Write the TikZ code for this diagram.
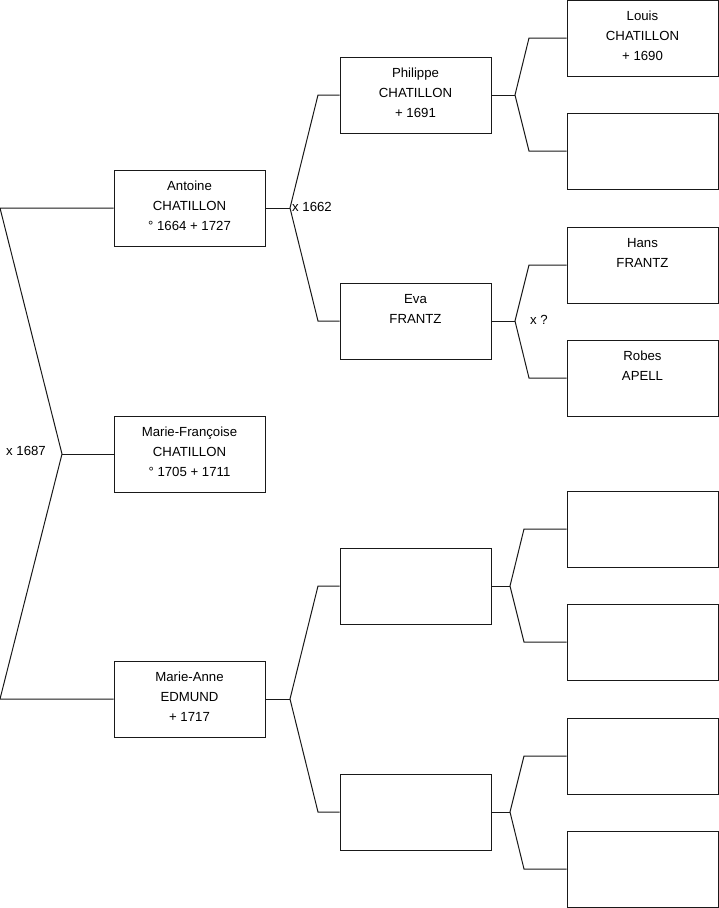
\documentclass[tikz,border=0pt]{standalone}
\usepackage{fontspec}
\setmainfont{Liberation Sans}
\newcommand{\lift}{\\[-16pt]\mbox{}}
\begin{document}
\begin{tikzpicture}[x=1pt,y=-1pt,
  person/.style={draw=black!90, line width=1pt, minimum width=151pt, minimum height=76pt,
    inner sep=0pt, align=center, font=\fontsize{13.2}{20}\selectfont},
  link/.style={draw=black!90, line width=1pt},
  lbl/.style={font=\fontsize{13.2}{15}\selectfont, inner sep=0pt}]
\useasboundingbox (0,0) rectangle (719,908);
% column 1
\node[person] (A) at (189.5,208) {Antoine\\CHATILLON\\° 1664 + 1727\lift};
\node[person] (MF) at (189.5,454) {Marie-Françoise\\CHATILLON\\° 1705 + 1711\lift};
\node[person] (MA) at (189.5,699) {Marie-Anne\\EDMUND\\+ 1717\lift};
% column 2
\node[person] (P) at (415.5,95) {Philippe\\CHATILLON\\+ 1691\lift};
\node[person] (E) at (415.5,321) {Eva\\FRANTZ\\\mbox{}\lift};
\node[person] (Q1) at (415.5,586) {};
\node[person] (Q2) at (415.5,812) {};
% column 3
\node[person] (L) at (642.5,38) {Louis\\CHATILLON\\+ 1690\lift};
\node[person] (R2) at (642.5,151) {};
\node[person] (H) at (642.5,265) {Hans\\FRANTZ\\\mbox{}\lift};
\node[person] (RA) at (642.5,378) {Robes\\APELL\\\mbox{}\lift};
\node[person] (S1) at (642.5,529) {};
\node[person] (S2) at (642.5,642) {};
\node[person] (S3) at (642.5,756) {};
\node[person] (S4) at (642.5,869) {};
% junction points
\coordinate (t0) at (0,208);
\coordinate (v0) at (62,454);
\coordinate (b0) at (0,699);
\coordinate (v1) at (290,208);
\coordinate (t1) at (318,95);
\coordinate (b1) at (318,321);
\coordinate (v2) at (515,95);
\coordinate (t2) at (529,38);
\coordinate (b2) at (529,151);
\coordinate (v3) at (515,321);
\coordinate (t3) at (529,265);
\coordinate (b3) at (529,378);
\coordinate (v4) at (290,699);
\coordinate (t4) at (318,586);
\coordinate (b4) at (318,812);
\coordinate (v5) at (510,586);
\coordinate (t5) at (524,529);
\coordinate (b5) at (524,642);
\coordinate (v6) at (510,812);
\coordinate (t6) at (524,756);
\coordinate (b6) at (524,869);
% connectors
\draw[link] (A.west) -- (t0) -- (v0) -- (b0) -- (MA.west);
\draw[link] (v0) -- (MF.west);
\draw[link] (A.east) -- (v1);
\draw[link] (P.west) -- (t1) -- (v1) -- (b1) -- (E.west);
\draw[link] (P.east) -- (v2);
\draw[link] (L.west) -- (t2) -- (v2) -- (b2) -- (R2.west);
\draw[link] (E.east) -- (v3);
\draw[link] (H.west) -- (t3) -- (v3) -- (b3) -- (RA.west);
\draw[link] (MA.east) -- (v4);
\draw[link] (Q1.west) -- (t4) -- (v4) -- (b4) -- (Q2.west);
\draw[link] (Q1.east) -- (v5);
\draw[link] (S1.west) -- (t5) -- (v5) -- (b5) -- (S2.west);
\draw[link] (Q2.east) -- (v6);
\draw[link] (S3.west) -- (t6) -- (v6) -- (b6) -- (S4.west);
% marriage labels
\node[lbl, anchor=east] (m0) at (46,451) {x 1687};
\node[lbl, anchor=west] (m1) at (292,207) {x 1662};
\node[lbl, anchor=west] (m3) at (530,320) {x ?};
\end{tikzpicture}
\end{document}
